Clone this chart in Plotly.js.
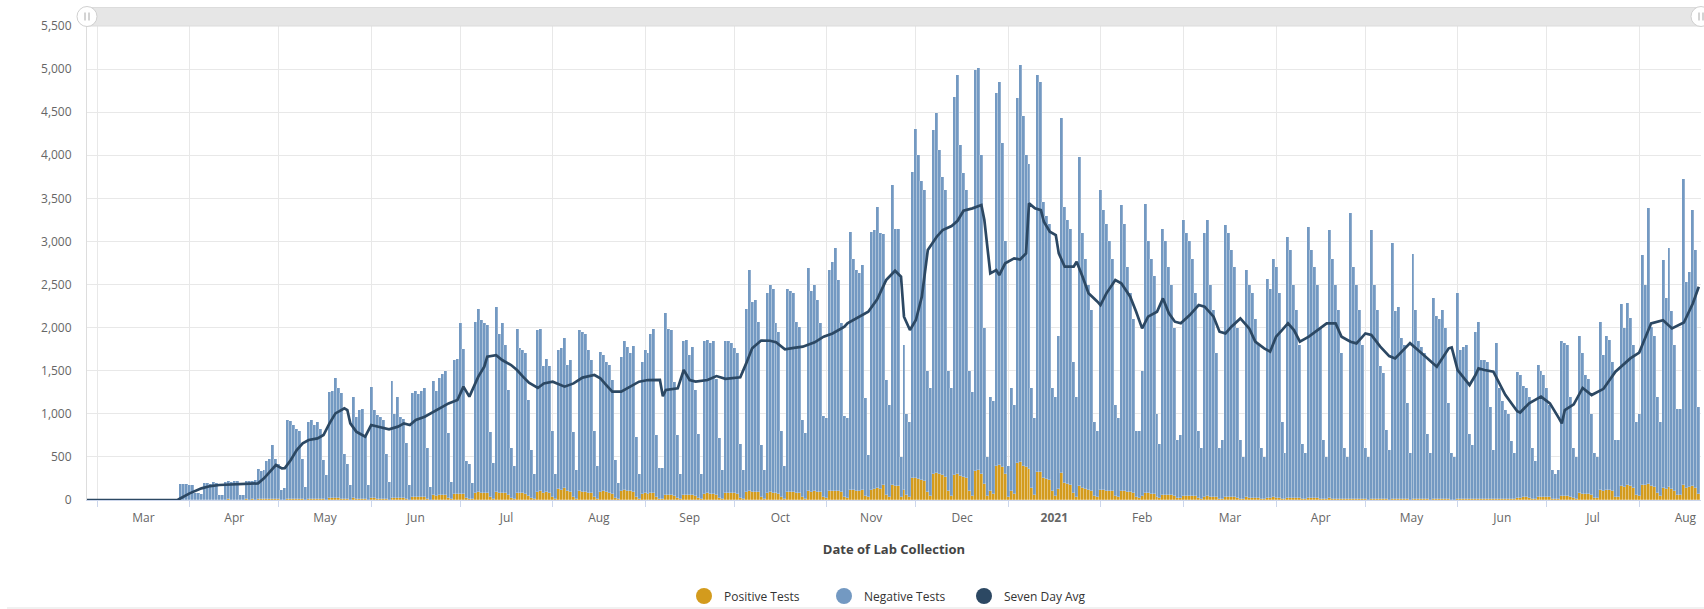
<!DOCTYPE html>
<html>
<head>
<meta charset="utf-8">
<script src="https://cdn.plot.ly/plotly-3.0.1.min.js"></script>
<style>
  html, body { margin: 0; padding: 0; background: #ffffff; }
  #chart { width: 1704px; height: 609px; }
</style>
</head>
<body>
<div id="chart"></div>
<script>
// ---- DATA (daily, first day = Sunday 2020-02-23; one row per week Sun..Sat) ----
const startDate = '2020-02-23';

const positiveTests = [
  0,0,0,0,0,0,0,
  0,0,0,0,0,0,0,
  0,0,0,0,0,0,0,
  0,0,0,0,0,0,0,
  0,0,0,0,0,0,0,
  2,3,3,3,3,1,1,
  1,4,5,3,4,4,1,
  1,5,6,4,5,5,1,
  1,6,5,6,5,8,6,
  6,9,10,12,10,8,2,
  3,15,14,12,12,11,7,
  3,14,15,13,14,12,7,
  5,18,18,20,18,17,8,
  6,3,18,15,16,16,10,
  3,22,18,17,16,15,9,
  4,25,20,22,18,18,12,
  4,30,32,30,32,34,14,
  5,55,50,58,60,62,25,
  8,65,66,75,68,18,14,
  8,85,88,82,84,80,30,
  15,90,80,85,78,55,24,
  15,85,80,80,75,50,22,
  12,95,100,85,90,80,35,
  15,130,120,135,100,95,40,
  15,100,95,90,85,80,35,
  15,95,100,90,85,75,25,
  10,110,115,105,100,95,35,
  12,75,80,75,80,78,30,
  12,12,60,58,55,45,25,
  10,60,62,58,60,45,25,
  10,75,78,72,75,55,28,
  12,85,85,80,80,75,28,
  14,95,100,95,95,90,30,
  14,85,90,85,80,75,30,
  15,90,92,88,85,80,35,
  15,100,98,100,95,90,40,
  20,100,105,110,100,90,40,
  25,120,115,110,110,115,50,
  30,120,125,140,130,170,60,
  40,170,160,165,30,120,60,
  30,250,260,240,230,220,90,
  50,300,310,300,290,270,110,
  50,290,300,280,270,250,110,
  50,340,350,300,180,50,100,
  70,400,410,380,300,40,110,
  70,430,440,400,380,360,140,
  60,330,320,260,240,230,100,
  50,130,310,200,180,170,80,
  40,160,140,130,120,110,50,
  35,120,115,110,105,100,45,
  30,100,100,95,90,85,35,
  25,50,80,78,75,72,30,
  20,60,58,56,55,50,22,
  18,48,46,45,44,42,18,
  15,40,42,38,36,32,15,
  12,32,31,30,30,28,12,
  10,30,29,28,27,25,10,
  10,28,27,30,28,26,12,
  8,22,21,20,19,18,8,
  8,20,19,19,18,17,8,
  6,18,17,16,16,15,6,
  6,16,15,15,14,14,6,
  5,14,13,12,11,11,6,
  5,13,12,12,11,11,7,
  5,12,11,10,10,10,6,
  5,12,11,11,11,10,7,
  5,5,14,12,12,12,6,
  6,14,15,13,13,13,8,
  6,16,14,14,13,13,8,
  8,25,28,30,30,28,12,
  10,40,38,36,34,30,10,
  8,10,50,48,46,35,18,
  15,80,75,72,70,55,25,
  20,115,110,120,118,100,40,
  30,160,150,175,165,140,60,
  50,175,170,190,160,150,80,
  45,140,130,150,125,110,60,
  55,170,140,150,160,145,65
];

const negativeTests = [
  0,0,0,0,0,0,0,
  0,0,0,0,0,0,0,
  0,0,0,0,0,0,0,
  0,0,0,0,0,0,0,
  0,0,0,0,0,0,0,
  188,182,177,172,167,84,79,
  74,191,195,187,201,196,59,
  59,205,209,201,220,215,54,
  59,214,220,209,225,352,334,
  344,441,460,628,470,412,113,
  132,915,906,863,808,789,463,
  152,886,915,857,886,808,453,
  285,1238,1242,1395,1282,1228,528,
  414,171,1180,951,1028,1044,740,
  171,1288,1026,973,944,915,526,
  201,1355,980,1178,942,922,648,
  170,1215,1228,1200,1233,1266,586,
  145,1325,1220,1362,1400,1438,752,
  205,1555,1574,1975,1682,432,406,
  192,1985,2132,2008,1966,1950,760,
  410,2150,1850,1965,1722,1225,576,
  385,1905,1680,1660,1625,1110,558,
  288,1875,1890,1465,1550,1470,765,
  285,1610,1640,1745,1470,1525,750,
  335,1870,1855,1840,1655,1540,765,
  375,1625,1580,1510,1485,1315,435,
  190,1550,1725,1675,1600,1695,695,
  288,1525,1660,1625,1850,1912,720,
  358,358,2105,1932,1915,1325,725,
  290,1780,1798,1622,1720,1235,745,
  290,1765,1782,1748,1765,1345,692,
  338,1765,1765,1740,1680,1625,622,
  336,2125,2570,2205,2225,1980,610,
  336,2315,2410,2365,1970,1875,770,
  385,2360,2338,2312,1985,1930,895,
  765,2590,2322,2390,2225,1960,930,
  930,2570,2655,2810,2450,1960,930,
  925,2990,2685,2560,2520,2615,1130,
  490,2990,3005,3260,2970,2920,1330,
  1060,3480,2990,2985,470,1680,940,
  870,3560,4040,3760,3470,3380,1410,
  1250,3990,4180,3760,3460,3330,1390,
  1250,4390,4630,3840,3530,3350,1390,
  1200,4650,4660,3700,1820,450,1100,
  1080,4320,4440,3760,2700,360,1190,
  1030,4230,4610,4050,3620,3540,1160,
  890,4600,4530,3200,3060,2970,1200,
  1150,1770,4120,3200,3070,2980,1520,
  1160,3820,2960,2670,2380,2090,850,
  765,3480,3245,3090,2895,2700,1055,
  920,3320,3100,2605,2310,2015,765,
  775,1450,3360,2922,2725,2528,970,
  630,3090,2942,2644,2445,1950,678,
  732,3202,3054,2955,2756,2358,782,
  585,3060,3208,2462,2164,1668,585,
  688,3158,3069,2870,2670,1972,688,
  490,2640,2471,2372,2073,1775,590,
  490,2542,2423,2770,2672,2374,888,
  542,3028,2879,2480,2181,1782,642,
  542,3150,2881,2681,2482,1983,692,
  494,3112,2783,2484,2184,1685,594,
  494,3314,2685,2485,2186,1786,594,
  495,3116,2487,2188,1539,1459,804,
  575,2967,2178,2228,1864,1789,1113,
  535,2848,2189,1830,1770,1690,764,
  535,2328,2119,2089,2189,1990,1113,
  535,495,2386,1728,1768,1788,764,
  634,1936,2055,1607,1607,1587,1072,
  574,1804,1286,1136,1027,987,672,
  532,1455,1422,1290,1270,1172,588,
  440,1530,1462,1414,1266,1070,340,
  292,340,1790,1772,1754,1165,582,
  485,1820,1625,1378,1330,945,525,
  480,1955,1570,1780,1742,1500,660,
  670,2120,1850,2115,1945,1660,840,
  950,2665,2320,3200,1850,1750,1120,
  855,2640,2210,2770,2065,1690,1000,
  1005,3560,2390,2500,3200,2755,1015
];

// Seven day average: day number counted from 2020-03-01, and value
const avgOrigin = '2020-03-01';
const avgDay = [-4,27,28,31,35,38,41,47,51,54,56,58,60,62,63,65,67,69,71,74,76,78,80,83,84,85,87,89,90,92,94,96,98,101,103,105,107,110,112,114,116,118,121,123,125,126,128,130,131,134,136,139,141,143,145,148,150,153,157,160,163,167,169,171,173,176,178,180,182,185,187,189,190,191,195,197,199,201,205,208,211,216,218,220,223,226,228,231,234,237,241,244,247,251,252,255,259,262,265,268,270,271,273,275,277,279,281,282,284,287,289,291,294,297,298,300,302,303,305,308,310,312,313,315,317,318,320,322,323,325,328,329,331,333,336,337,339,342,344,347,349,351,353,356,358,360,362,364,367,370,372,375,377,379,381,384,386,387,389,392,394,396,398,400,402,404,407,410,413,416,418,421,423,426,428,431,434,436,441,445,450,454,455,457,461,463,464,466,469,473,477,478,481,485,488,491,492,493,496,499,502,506,510,515,518,522,526,529,533,536,538];
const avgValue = [0,0,20,77,135,162,174,182,186,193,251,329,406,367,370,464,580,657,696,715,754,889,1005,1063,1044,889,793,754,735,870,851,831,820,851,889,870,928,967,1005,1044,1083,1121,1160,1315,1199,1276,1431,1547,1663,1680,1624,1566,1508,1431,1360,1300,1353,1373,1315,1353,1420,1450,1411,1334,1257,1257,1295,1334,1373,1392,1395,1395,1205,1276,1295,1508,1392,1373,1392,1438,1405,1423,1585,1760,1850,1848,1830,1748,1765,1779,1830,1895,1933,2011,2050,2107,2185,2330,2552,2660,2591,2127,1972,2088,2359,2900,2997,3055,3132,3179,3240,3357,3384,3422,3248,2630,2668,2610,2746,2804,2790,2862,3442,3384,3364,3229,3113,3074,2862,2707,2707,2765,2591,2398,2301,2262,2398,2552,2514,2359,2185,1991,2127,2185,2339,2166,2069,2050,2146,2262,2243,2127,1953,1933,2011,2107,2030,1990,1837,1760,1721,1895,1972,2050,1972,1837,1895,1972,2050,2050,1895,1837,1817,1933,1914,1779,1670,1643,1820,1701,1547,1760,1770,1508,1334,1450,1527,1508,1489,1220,1030,1015,1121,1199,1121,950,889,1044,1110,1300,1218,1290,1489,1643,1710,2050,2085,1991,2060,2280,2475];

// Axis: month boundaries and labels
const monthStarts = ['2020-03-01','2020-04-01','2020-05-01','2020-06-01','2020-07-01','2020-08-01','2020-09-01','2020-10-01','2020-11-01','2020-12-01','2021-01-01','2021-02-01','2021-03-01','2021-04-01','2021-05-01','2021-06-01','2021-07-01','2021-08-01','2021-09-01'];
const monthLabels = ['Mar','Apr','May','Jun','Jul','Aug','Sep','Oct','Nov','Dec','<b>2021</b>','Feb','Mar','Apr','May','Jun','Jul','Aug'];
const yTickValues = [0,500,1000,1500,2000,2500,3000,3500,4000,4500,5000,5500];

// ---- helpers (date positions only) ----
function addDays(iso, n) {
  const p = iso.split('-').map(Number);
  return new Date(Date.UTC(p[0], p[1] - 1, p[2]) + n * 86400000).toISOString().slice(0, 10);
}
function midpoint(a, b) {
  const ta = Date.parse(a + 'T00:00:00Z'), tb = Date.parse(b + 'T00:00:00Z');
  return new Date((ta + tb) / 2).toISOString().slice(0, 16).replace('T', ' ');
}
const barDates = negativeTests.map((_, i) => addDays(startDate, i));
const avgDates = avgDay.map(d => addDays(avgOrigin, d));
const gridVals = monthStarts.slice(0, -1);
const labelVals = gridVals.map((s, i) => midpoint(s, monthStarts[i + 1]));

const COL_POS = '#d39b1d';
const COL_NEG = '#7399c2';
const COL_AVG = '#2c4863';
const SEP = { color: 'rgba(255,255,255,0.45)', width: 0.5 };

const traces = [
  { type: 'bar', name: 'Positive Tests', x: barDates, y: positiveTests,
    marker: { color: COL_POS, line: SEP }, legendgroup: 'pos', showlegend: false },
  { type: 'bar', name: 'Negative Tests', x: barDates, y: negativeTests,
    marker: { color: COL_NEG, line: SEP }, legendgroup: 'neg', showlegend: false },
  { type: 'scatter', mode: 'lines', name: 'Seven Day Avg', x: avgDates, y: avgValue,
    line: { color: COL_AVG, width: 2.7 }, legendgroup: 'avg', showlegend: false },
  // legend entries (round symbols as in the original)
  { type: 'scatter', mode: 'markers', name: 'Positive Tests', x: [null], y: [null],
    marker: { color: COL_POS, size: 16 }, legendgroup: 'pos', hoverinfo: 'skip' },
  { type: 'scatter', mode: 'markers', name: 'Negative Tests', x: [null], y: [null],
    marker: { color: COL_NEG, size: 16 }, legendgroup: 'neg', hoverinfo: 'skip' },
  { type: 'scatter', mode: 'markers', name: 'Seven Day Avg', x: [null], y: [null],
    marker: { color: COL_AVG, size: 16 }, legendgroup: 'avg', hoverinfo: 'skip' }
];

const plotH = 609 - 26 - 109;
const gripY = 1 + 9.5 / plotH;
function grip(xa) {
  return [-2, 2].map(dx => ({
    type: 'line', xref: 'paper', yref: 'paper', xsizemode: 'pixel', ysizemode: 'pixel',
    xanchor: xa, yanchor: gripY, x0: dx, x1: dx, y0: -4, y1: 4,
    line: { color: '#a8a8a8', width: 1 }
  }));
}

const layout = {
  width: 1704, height: 609,
  margin: { l: 87, r: 3, t: 26, b: 109 },
  paper_bgcolor: '#ffffff', plot_bgcolor: '#ffffff',
  font: { family: '"Open Sans", "DejaVu Sans", sans-serif', color: '#666666', size: 12 },
  barmode: 'stack', bargap: 0,
  showlegend: true,
  legend: { orientation: 'h', xref: 'paper', x: 0.5, xanchor: 'center',
            yref: 'container', y: 1 - 596 / 609, yanchor: 'middle',
            entrywidth: 95, entrywidthmode: 'pixels',
            font: { size: 12, color: '#333333' }, itemclick: false, itemdoubleclick: false,
            bgcolor: 'rgba(0,0,0,0)' },
  xaxis: {
    type: 'date', range: ['2020-02-26 13:00', '2021-08-21 18:00'],
    tickmode: 'array', tickvals: labelVals, ticktext: monthLabels,
    ticks: '', showgrid: false, zeroline: false,
    showline: true, linecolor: '#ccd6eb', linewidth: 1,
    tickfont: { size: 12, color: '#666666' }, ticklabelstandoff: 7,
    minor: { tickmode: 'array', tickvals: gridVals, showgrid: true, gridcolor: '#e8e8e8',
             gridwidth: 1, ticks: 'outside', ticklen: 6, tickcolor: '#ccd6eb', tickwidth: 1 },
    title: { text: '<b>Date of Lab Collection</b>', font: { size: 13, color: '#444444' }, standoff: 19 },
    automargin: false, fixedrange: true
  },
  yaxis: {
    range: [0, 5500], tickmode: 'array', tickvals: yTickValues, tickformat: ',d',
    showgrid: true, gridcolor: '#e8e8e8', gridwidth: 1, zeroline: false,
    showline: true, linecolor: '#dddddd', linewidth: 1,
    ticks: '', ticklabelstandoff: 12,
    tickfont: { size: 12, color: '#666666' }, automargin: false, fixedrange: true
  },
  shapes: [
    { type: 'rect', xref: 'paper', yref: 'paper', x0: 0, x1: 1, y0: 1, y1: 1 + 18.5 / plotH,
      fillcolor: '#e6e6e6', line: { color: '#dcdcdc', width: 1 } },
    { type: 'circle', xref: 'paper', yref: 'paper', xsizemode: 'pixel', ysizemode: 'pixel',
      xanchor: 0, yanchor: gripY, x0: -10, x1: 10, y0: -10, y1: 10,
      fillcolor: '#ffffff', line: { color: '#d0d0d0', width: 1 } },
    { type: 'circle', xref: 'paper', yref: 'paper', xsizemode: 'pixel', ysizemode: 'pixel',
      xanchor: 1, yanchor: gripY, x0: -10, x1: 10, y0: -10, y1: 10,
      fillcolor: '#ffffff', line: { color: '#d0d0d0', width: 1 } },
    ...grip(0), ...grip(1),
    { type: 'line', xref: 'paper', yref: 'paper', x0: -80 / 1614, x1: 1.01,
      y0: -108 / plotH, y1: -108 / plotH, line: { color: '#e3e3e3', width: 1 } }
  ]
};

Plotly.newPlot('chart', traces, layout, { displayModeBar: false });
</script>
</body>
</html>
